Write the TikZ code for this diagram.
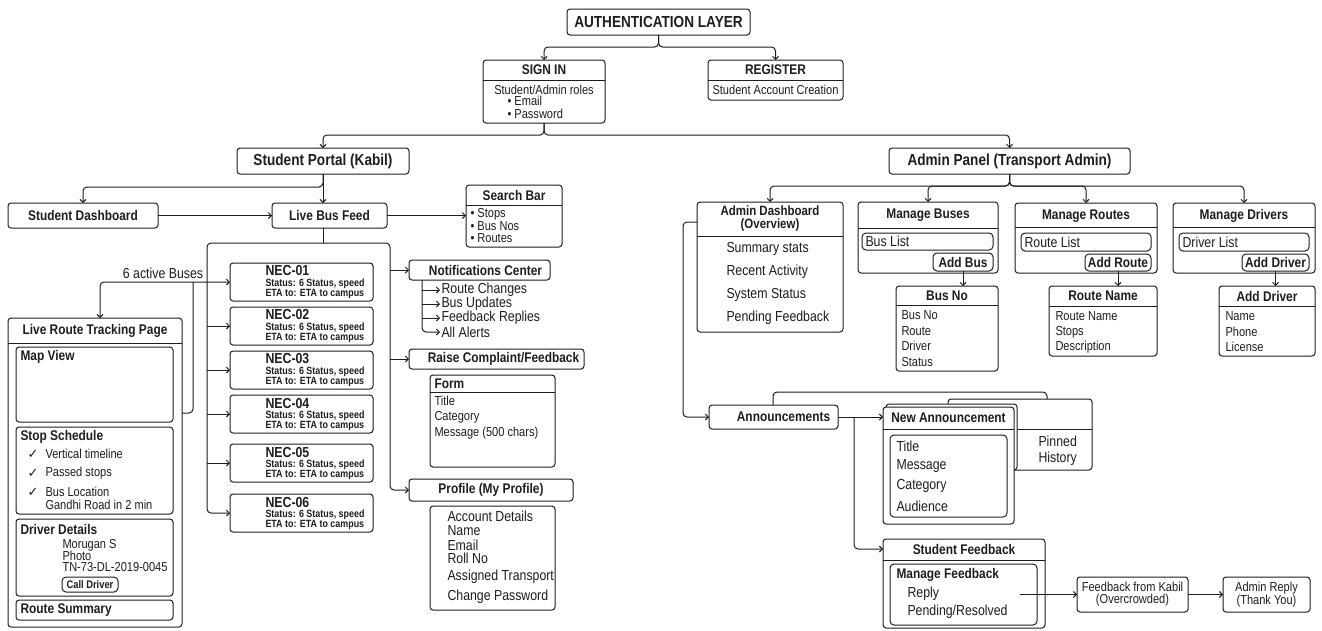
\documentclass[tikz,border=0pt]{standalone}
\usepackage{fontspec}
\setmainfont{Liberation Sans}[FakeStretch=0.85]
\newfontfamily\symf{DejaVu Sans}
\usepackage{xcolor}
\usetikzlibrary{arrows.meta, calc, positioning}
\definecolor{ink}{HTML}{1E1E1E}
\newcommand{\fhd}{\bfseries\fontsize{16}{18}\selectfont}
\newcommand{\fttl}{\bfseries\fontsize{14}{15}\selectfont}
\newcommand{\fitm}{\fontsize{14.5}{15}\selectfont}
\newcommand{\fsm}{\fontsize{13}{12}\selectfont}
\newcommand{\fst}{\bfseries\fontsize{10.5}{10}\selectfont}
\newcommand{\sepline}[2]{\draw ($(#1.north west)+(0,#2)$) -- ($(#1.north east)+(0,#2)$);}

\begin{document}
\begin{tikzpicture}[x=1pt, y=-1pt, color=ink, line width=1pt,
    box/.style={draw, rounded corners=3pt, fill=white, anchor=north west, inner sep=0pt, outer sep=0pt},
    btn/.style={box, rounded corners=4pt, font=\fttl},
    ttl/.style={inner sep=0pt, font=\fttl},
    itm/.style={anchor=west, inner sep=0pt, font=\fitm},
    sm/.style={anchor=west, inner sep=0pt, font=\fsm},
    e/.style={-{Straight Barb[length=3pt,width=6pt]}},
    line/.style={rounded corners=4pt}]

\fill[white] (0,0) rectangle (1322,630);
\useasboundingbox (0,0) rectangle (1322,630);

% authentication
\node[box, minimum width=183, minimum height=26, font=\fhd] (auth) at (567,9) {AUTHENTICATION LAYER};
\node[box, minimum width=122, minimum height=63] (signin) at (483,60) {};
\node[ttl] (signint) at ($(signin.north)+(0,10)$) {SIGN IN};
\sepline{signin}{20}
\node[sm, anchor=center] (signin1) at ($(signin.north)+(0,30)$) {Student/Admin roles};
\node[sm] (signin2) at (507,101) {• Email};
\node[sm] (signin3) at (507,114) {• Password};
\node[box, minimum width=135, minimum height=40] (register) at (708,60) {};
\node[ttl] (registert) at ($(register.north)+(0,10)$) {REGISTER};
\sepline{register}{20}
\node[sm, anchor=center] (register1) at ($(register.north)+(0,30)$) {Student Account Creation};
\draw[e, line] (auth.south) -- ++(0,12) -| (signin.north);
\draw[e, line] (auth.south) -- ++(0,12) -| (register.north);

\node[box, minimum width=172, minimum height=26, font=\fhd] (portal) at (237,148) {Student Portal (Kabil)};
\node[box, minimum width=241, minimum height=26, font=\fhd] (admin) at (889,148) {Admin Panel (Transport Admin)};
\draw[e, line] (signin.south) -- ++(0,12) -| (portal.north);
\draw[e, line] (signin.south) -- ++(0,12) -| (admin.north);

% student side
\node[box, minimum width=150, minimum height=25, font=\fttl] (sdash) at (8,203) {Student Dashboard};
\node[box, minimum width=115, minimum height=25, font=\fttl] (lbf) at (272,203) {Live Bus Feed};
\draw[e, line] (portal.south) -- ++(0,13) -| (sdash.north);
\draw[e] (portal.south) -- (portal.south |- lbf.north);
\draw[e] (sdash.east) -- (lbf.west);

\node[box, minimum width=96, minimum height=62] (search) at (466,185) {};
\node[ttl] (searcht) at ($(search.north)+(0,10)$) {Search Bar};
\sepline{search}{20}
\foreach \t/\y [count=\k] in {Stops/214, Bus Nos/226, Routes/238}
  \node[sm] (search\k) at (470,\y) {• \t};
\draw[e] (lbf.east) -- (lbf.east -| search.west);

\foreach \k/\t in {1/263, 2/307, 3/351, 4/395, 5/444, 6/494}{
  \node[box, minimum width=143, minimum height=38] (nec\k) at (230,\t) {};
  \node[anchor=west, inner sep=0pt, font=\bfseries\fontsize{14.5}{15}\selectfont] (nect\k) at ($(nec\k.north west)+(35,8)$) {NEC-0\k};
  \node[anchor=west, inner sep=0pt, font=\fst, align=left] (necs\k) at ($(nec\k.north west)+(35,26)$) {Status: 6 Status, speed\\ETA to: ETA to campus};
}

\coordinate (ftop) at (323,243);
\coordinate (fl) at (207,243);
\coordinate (fr) at (390,243);

\node[box, minimum width=141, minimum height=20, font=\fttl] (notif) at (409,260) {\hspace*{12pt}Notifications Center};
\coordinate (nx) at (422,280);
\foreach \t/\y [count=\k] in {Route Changes/290, Bus Updates/304, Feedback Replies/318, All Alerts/332}
  \node[itm] (nc\k) at (441,\y) {\t};
\foreach \k in {1,2,3} \draw[e] (nc\k.west -| nx) -- ([xshift=-1pt]nc\k.west);
\draw[e, line] (nx) |- ([xshift=-1pt]nc4.west);

\node[box, minimum width=175, minimum height=20, font=\fttl] (raise) at (409,349) {\hspace*{14pt}Raise Complaint/Feedback};
\node[box, minimum width=125, minimum height=92] (form) at (430,375) {};
\node[ttl, anchor=west] (formt) at ($(form.north west)+(4,9)$) {Form};
\sepline{form}{17}
\foreach \t/\y [count=\k] in {Title/401, Category/417, Message (500 chars)/433}
  \node[sm] (form\k) at (434,\y) {\t};

\node[box, minimum width=164, minimum height=22, font=\fttl] (prof) at (409,479) {Profile (My Profile)};
\node[box, minimum width=125, minimum height=104] (profb) at (430,506) {};
\foreach \t/\y [count=\k] in {Account Details/516, Name/531, Email/545, Roll No/558, Assigned Transport/577, Change Password/597}
  \node[itm] (prof\k) at (447,\y) {\t};

\draw (lbf.south -| ftop) -- (ftop);
\draw[e, line] (ftop) -| (nec6.west -| fl) -- (nec6.west);
\draw[e, line] (ftop) -| (prof.west -| fr) -- (prof.west);
\foreach \k in {2,...,5} \draw[e] (nec\k.west -| fl) -- (nec\k.west);
\draw[e] (notif.west -| fr) -- (notif.west);
\draw[e] (raise.west -| fr) -- (raise.west);

% live route tracking page
\node[box, minimum width=174, minimum height=309] (lrtp) at (8,318) {};
\node[ttl] (lrtpt) at ($(lrtp.north)+(0,13)$) {Live Route Tracking Page};
\sepline{lrtp}{25}
\node[box, minimum width=157, minimum height=75] (map) at (16,347) {};
\node[ttl, anchor=west] (mapt) at ($(map.north west)+(4,10)$) {Map View};
\node[box, minimum width=157, minimum height=87] (stops) at (16,427) {};
\node[ttl, anchor=west] (stopst) at ($(stops.north west)+(4,10)$) {Stop Schedule};
\foreach \y [count=\k] in {454,473,492}
  \node[inner sep=0pt, font=\symf\fontsize{13}{13}\selectfont] (ck\k) at (33,\y) {✓};
\node[sm] (stop1) at (45,454) {Vertical timeline};
\node[sm] (stop2) at (45,473) {Passed stops};
\node[sm] (stop3) at (45,492) {Bus Location};
\node[sm] (stop4) at (45,505) {Gandhi Road in 2 min};
\node[box, minimum width=157, minimum height=77] (driver) at (16,519) {};
\node[ttl, anchor=west] (drivert) at ($(driver.north west)+(4,10)$) {Driver Details};
\foreach \t/\y [count=\k] in {Morugan S/545, Photo/556, TN-73-DL-2019-0045/567}
  \node[sm] (drv\k) at (62,\y) {\t};
\node[btn, minimum width=56, minimum height=15, font=\bfseries\fontsize{11}{12}\selectfont] (call) at (62,577) {Call Driver};
\node[box, minimum width=157, minimum height=20] (rsum) at (16,600) {};
\node[ttl, anchor=west] (rsumt) at ($(rsum.west)+(4,0)$) {Route Summary};

\coordinate (bx) at (100,283);
\coordinate (mx) at (193,413);
\draw[{Straight Barb[length=3pt,width=6pt]}-{Straight Barb[length=3pt,width=6pt]}, line] (lrtp.north -| bx) |- (nec1.west);
\draw[line] (mx -| lrtp.east) -| (nec1.west -| mx);
\node[itm, anchor=south] (act) at (163,279) {6 active Buses};

% admin side
\coordinate (abr) at (1010,186);
\node[box, minimum width=146, minimum height=130] (adash) at (697,202) {};
\node[ttl, align=center, font=\bfseries\fontsize{13.5}{13}\selectfont] (adasht) at ($(adash.north)+(0,17)$) {Admin Dashboard\\(Overview)};
\sepline{adash}{34}
\foreach \t/\y [count=\k] in {Summary stats/249, Recent Activity/272, System Status/295, Pending Feedback/318}
  \node[itm] (adash\k) at (726,\y) {\t};

\node[box, minimum width=140, minimum height=71] (mbus) at (858,202) {};
\node[ttl] (mbust) at ($(mbus.north)+(0,13)$) {Manage Buses};
\sepline{mbus}{26}
\node[box, rounded corners=4pt, minimum width=131, minimum height=17] (buslist) at (862,233) {};
\node[itm] (buslistt) at ($(buslist.west)+(3,0)$) {Bus List};
\node[btn, minimum width=60, minimum height=18] (addbus) at (933,253) {Add Bus};
\node[box, minimum width=102, minimum height=85] (busno) at (896,286) {};
\node[ttl] (busnot) at ($(busno.north)+(0,10)$) {Bus No};
\sepline{busno}{19}
\foreach \t/\y [count=\k] in {Bus No/315, Route/331, Driver/346, Status/362}
  \node[sm] (busno\k) at (901,\y) {\t};
\draw[e] (addbus.south) -- (addbus.south |- busno.north);

\node[box, minimum width=142, minimum height=70] (mroute) at (1015,203) {};
\node[ttl] (mroutet) at ($(mroute.north)+(0,13)$) {Manage Routes};
\sepline{mroute}{24}
\node[box, rounded corners=4pt, minimum width=130, minimum height=18] (routelist) at (1021,233) {};
\node[itm] (routelistt) at ($(routelist.west)+(3,0)$) {Route List};
\node[btn, minimum width=66, minimum height=17] (addroute) at (1085,254) {Add Route};
\node[box, minimum width=108, minimum height=70] (rname) at (1049,286) {};
\node[ttl] (rnamet) at ($(rname.north)+(0,10)$) {Route Name};
\sepline{rname}{20}
\foreach \t/\y [count=\k] in {Route Name/316, Stops/332, Description/347}
  \node[sm] (rname\k) at (1055,\y) {\t};
\draw[e] (addroute.south) -- (addroute.south |- rname.north);

\node[box, minimum width=142, minimum height=70] (mdrv) at (1173,203) {};
\node[ttl] (mdrvt) at ($(mdrv.north)+(0,13)$) {Manage Drivers};
\sepline{mdrv}{24}
\node[box, rounded corners=4pt, minimum width=130, minimum height=18] (drvlist) at (1179,233) {};
\node[itm] (drvlistt) at ($(drvlist.west)+(3,0)$) {Driver List};
\node[btn, minimum width=67, minimum height=17] (adddrv) at (1242,254) {Add Driver};
\node[box, minimum width=96, minimum height=70] (dform) at (1219,286) {};
\node[ttl] (dformt) at ($(dform.north)+(0,10)$) {Add Driver};
\sepline{dform}{20}
\foreach \t/\y [count=\k] in {Name/316, Phone/332, License/347}
  \node[sm] (dform\k) at (1225,\y) {\t};
\draw[e] (adddrv.south) -- (adddrv.south |- dform.north);

\foreach \n in {adash,mbus,mroute,mdrv}
  \draw[e, line] (admin.south) -- (admin.south |- abr) -| (\n.north);

% announcements
\node[box, minimum width=129, minimum height=24, font=\fttl] (ann) at (709,405) {\hspace*{20pt}Announcements};
\coordinate (ax) at (683,222);
\draw[e, line] (ax -| adash.west) -- (ax) |- (ann.west);

\node[box, minimum width=144, minimum height=71] (pin) at (948,399) {};
\sepline{pin}{30}
\node[itm] (pin1) at (1038,441) {Pinned};
\node[itm] (pin2) at (1038,459) {History};
\coordinate (bk1) at (773,392);
\coordinate (bk2) at (1047,392);
\draw[line] (ann.north -| bk1) -- (bk1) -- (bk2) -- (pin.north -| bk2);

\node[box, minimum width=131, minimum height=66] (newsh) at (886,404) {};
\node[box, minimum width=131, minimum height=117] (newann) at (883,407) {};
\node[ttl] (newannt) at ($(newann.north)+(0,11)$) {New Announcement};
\sepline{newann}{22}
\node[box, rounded corners=4pt, minimum width=117, minimum height=82] (newin) at (890,435) {};
\foreach \t/\y [count=\k] in {Title/446, Message/466, Category/486, Audience/506}
  \node[itm] (newi\k) at (896,\y) {\t};
\draw[e] (ann.east) -- (ann.east -| newann.west);

\node[box, minimum width=162, minimum height=89] (sfb) at (883,539) {};
\node[ttl] (sfbt) at ($(sfb.north)+(0,10)$) {Student Feedback};
\sepline{sfb}{21}
\node[box, rounded corners=4pt, minimum width=147, minimum height=61] (mfb) at (890,564) {};
\node[ttl, anchor=west] (mfbt) at (896,575) {Manage Feedback};
\node[itm] (mfb1) at (907,594) {Reply};
\node[itm] (mfb2) at (907,612) {Pending/Resolved};
\coordinate (sx) at (854,417);
\draw[e, line] (ann.east -| sx) |- ($(sfb.north west)+(0,10)$);

\node[box, minimum width=111, minimum height=35, font=\fsm, align=center] (fbk) at (1077,577) {Feedback from Kabil\\(Overcrowded)};
\node[box, minimum width=87, minimum height=35, font=\fsm, align=center] (reply) at (1223,577) {Admin Reply\\(Thank You)};
\coordinate (fx) at (1020,595);
\draw[e] (fbk.west -| fx) -- (fbk.west);
\draw[e] (fbk.east) -- (reply.west);
\end{tikzpicture}
\end{document}
